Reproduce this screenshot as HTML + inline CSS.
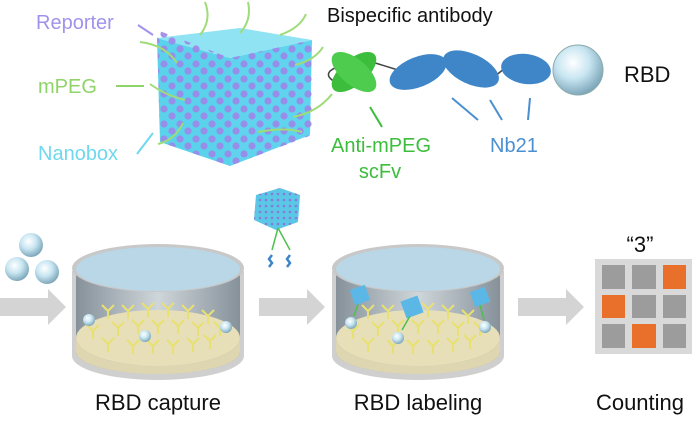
<!DOCTYPE html>
<html><head><meta charset="utf-8"><style>
html,body{margin:0;padding:0;background:#fff;}
svg{display:block;font-family:"Liberation Sans",sans-serif;}
</style></head><body>
<svg width="697" height="423" viewBox="0 0 697 423" xmlns="http://www.w3.org/2000/svg">
<defs>
<pattern id="dots" width="16" height="15" patternUnits="userSpaceOnUse">
<circle cx="4" cy="4" r="3.6" fill="#9c86e8"/><circle cx="12" cy="11" r="3.6" fill="#9c86e8"/>
</pattern>
<pattern id="dots2" width="6" height="6" patternUnits="userSpaceOnUse">
<circle cx="2" cy="2" r="1.3" fill="#8a7ad8"/>
</pattern>
<radialGradient id="sph" cx="40%" cy="35%" r="65%"><stop offset="0" stop-color="#ffffff"/><stop offset="0.5" stop-color="#c9e6f2"/><stop offset="1" stop-color="#7fa8bb"/></radialGradient>
<linearGradient id="wall" x1="0" x2="1"><stop offset="0" stop-color="#86919a"/><stop offset="0.5" stop-color="#cfd6da"/><stop offset="1" stop-color="#86919a"/></linearGradient>
<g id="ab" stroke="#e8e070" stroke-width="2" fill="none"><path d="M0 0 L0 8 M0 0 L-6 -6 M0 0 L6 -6"/></g>
<g id="well">
<path d="M-86 -85 L-86 0 A86 24 0 0 0 86 0 L86 -85 Z" fill="#cfcfcf"/>
<path d="M-82 -85 L-82 -4 A82 22 0 0 0 82 -4 L82 -85 Z" fill="url(#wall)"/>
<ellipse cx="0" cy="-18" rx="82" ry="28" fill="#e6dfb8"/>
<path d="M-82 -18 L-82 -4 A82 22 0 0 0 82 -4 L82 -18 A82 28 0 0 1 -82 -18Z" fill="#ddd6b0"/>
<ellipse cx="0" cy="-88" rx="86" ry="24" fill="#c8c8c8"/>
<ellipse cx="0" cy="-87" rx="82" ry="22" fill="#b9d7e6"/>
<use href="#ab" x="-50" y="-45"/><use href="#ab" x="-30" y="-45"/><use href="#ab" x="-10" y="-47"/><use href="#ab" x="10" y="-47"/><use href="#ab" x="30" y="-45"/><use href="#ab" x="50" y="-40"/>
<use href="#ab" x="-65" y="-25"/><use href="#ab" x="-40" y="-28"/><use href="#ab" x="-20" y="-30"/><use href="#ab" x="0" y="-30"/><use href="#ab" x="20" y="-30"/><use href="#ab" x="40" y="-28"/><use href="#ab" x="62" y="-28"/>
<use href="#ab" x="-50" y="-12"/><use href="#ab" x="-25" y="-10"/><use href="#ab" x="-5" y="-10"/><use href="#ab" x="15" y="-10"/><use href="#ab" x="35" y="-12"/><use href="#ab" x="52" y="-15"/>
</g>
</defs>

<text x="36" y="29" font-size="20" fill="#a093ec">Reporter</text>
<line x1="138" y1="25" x2="153" y2="35" stroke="#a093ec" stroke-width="2"/>
<text x="38" y="93" font-size="20" fill="#8fd468">mPEG</text>
<line x1="116" y1="86" x2="144" y2="86" stroke="#8fd468" stroke-width="2"/>
<text x="38" y="160" font-size="20" fill="#6fd8ee">Nanobox</text>
<line x1="137" y1="154" x2="153" y2="133" stroke="#6fd8ee" stroke-width="2"/>

<polygon points="157,38 230,58 230,166 160,142" fill="#5bd2ec"/>
<polygon points="230,58 312,40 310,135 230,166" fill="#60d4ee"/>
<polygon points="157,38 230,58 312,40 240,28" fill="#8fe3f2"/>
<polygon points="157,30 230,58 312,40 312,135 230,166 160,142" fill="url(#dots)" opacity="0.9"/>
<g stroke="#9fdc78" stroke-width="2" fill="none">
<path d="M200 35 Q212 20 205 2"/><path d="M240 33 Q252 20 248 2"/><path d="M280 35 Q300 28 306 14"/>
<path d="M177 63 Q165 45 140 42"/><path d="M185 100 Q165 95 150 84"/><path d="M183 123 Q175 140 158 144"/>
<path d="M295 65 Q315 60 323 47"/><path d="M293 117 Q318 112 332 94"/><path d="M258 132 Q285 127 302 132"/>
</g>

<text x="327" y="22" font-size="20" fill="#111">Bispecific antibody</text>
<path d="M340 66 Q322 72 332 80 L338 80" stroke="#444" stroke-width="1.5" fill="none"/>
<line x1="372" y1="62" x2="398" y2="70" stroke="#444" stroke-width="1.5"/>
<line x1="440" y1="58" x2="448" y2="60" stroke="#444" stroke-width="1.5"/>
<line x1="494" y1="77" x2="505" y2="68" stroke="#444" stroke-width="1.5"/>
<ellipse cx="354" cy="72" rx="27" ry="13" transform="rotate(-40 354 72)" fill="#3cbd3c"/>
<ellipse cx="354" cy="72" rx="27" ry="13" transform="rotate(40 354 72)" fill="#4dcc4d"/>
<ellipse cx="418" cy="72" rx="30" ry="15" transform="rotate(-22 418 72)" fill="#3f86c8"/>
<ellipse cx="471" cy="69" rx="30" ry="15" transform="rotate(25 471 69)" fill="#3f86c8"/>
<ellipse cx="526" cy="69" rx="25" ry="15" transform="rotate(8 526 69)" fill="#3f86c8"/>
<circle cx="578" cy="70" r="25" fill="url(#sph)" stroke="#8aa" stroke-width="1"/>
<text x="624" y="82" font-size="22" fill="#111">RBD</text>
<line x1="370" y1="107" x2="382" y2="127" stroke="#3cbd3c" stroke-width="2"/>
<line x1="452" y1="98" x2="478" y2="120" stroke="#4a8fd0" stroke-width="2"/>
<line x1="490" y1="100" x2="502" y2="120" stroke="#4a8fd0" stroke-width="2"/>
<line x1="530" y1="98" x2="528" y2="120" stroke="#4a8fd0" stroke-width="2"/>
<text x="331" y="152" font-size="20" fill="#3cbd3c">Anti-mPEG</text>
<text x="380" y="178" font-size="20" fill="#3cbd3c" text-anchor="middle">scFv</text>
<text x="490" y="152" font-size="20" fill="#4a8fd0">Nb21</text>

<circle cx="31" cy="245" r="12" fill="url(#sph)"/>
<circle cx="17" cy="269" r="12" fill="url(#sph)"/>
<circle cx="47" cy="272" r="12" fill="url(#sph)"/>
<polygon points="0,298 48,298 48,289 66,307 48,325 48,316 0,316" fill="#d4d4d4"/>
<polygon points="259,298 307,298 307,289 325,307 307,325 307,316 259,316" fill="#d4d4d4"/>
<polygon points="518,298 566,298 566,289 584,307 566,325 566,316 518,316" fill="#d4d4d4"/>

<use href="#well" x="158" y="356"/>
<circle cx="89" cy="320" r="6" fill="url(#sph)"/>
<circle cx="145" cy="336" r="6" fill="url(#sph)"/>
<circle cx="226" cy="327" r="6" fill="url(#sph)"/>

<use href="#well" x="418" y="356"/>
<circle cx="351" cy="323" r="6" fill="url(#sph)"/>
<circle cx="398" cy="338" r="6" fill="url(#sph)"/>
<circle cx="485" cy="327" r="6" fill="url(#sph)"/>
<g fill="#5bb8e6">
<rect x="352" y="287" width="16" height="16" transform="rotate(-20 360 295)"/>
<rect x="403" y="298" width="18" height="18" transform="rotate(-20 412 307)"/>
<rect x="472" y="289" width="16" height="16" transform="rotate(-20 480 297)"/>
</g>
<g stroke="#4ec04e" stroke-width="1.5" fill="none"><path d="M358 304 L354 316"/><path d="M410 316 L402 330"/><path d="M480 305 L484 320"/></g>

<polygon points="256,195 280,188 300,195 298,222 276,230 254,220" fill="#5bc7e6"/>
<polygon points="256,195 280,188 300,195 298,222 276,230 254,220" fill="url(#dots2)"/>
<g stroke="#4ec04e" stroke-width="1.5" fill="none"><path d="M278 228 L272 250"/><path d="M278 228 L290 250"/></g>
<g stroke="#3f86c8" stroke-width="2.5" fill="none"><path d="M272 255 l-3 4 l3 4 l-3 4"/><path d="M290 255 l-3 4 l3 4 l-3 4"/></g>

<text x="640" y="252" font-size="22" fill="#111" text-anchor="middle">“3”</text>
<rect x="595" y="259" width="97" height="95" fill="#d9d9d9"/>
<g fill="#9c9c9c">
<rect x="602" y="265" width="23" height="24"/><rect x="632" y="265" width="24" height="24"/><rect x="663" y="265" width="23" height="24" fill="#e8702a"/>
<rect x="602" y="295" width="23" height="23" fill="#e8702a"/><rect x="632" y="295" width="24" height="23"/><rect x="663" y="295" width="23" height="23"/>
<rect x="602" y="324" width="23" height="24"/><rect x="632" y="324" width="24" height="24" fill="#e8702a"/><rect x="663" y="324" width="23" height="24"/>
</g>

<text x="158" y="410" font-size="22" fill="#111" text-anchor="middle">RBD capture</text>
<text x="418" y="410" font-size="22" fill="#111" text-anchor="middle">RBD labeling</text>
<text x="640" y="410" font-size="22" fill="#111" text-anchor="middle">Counting</text>
</svg>
</body></html>
